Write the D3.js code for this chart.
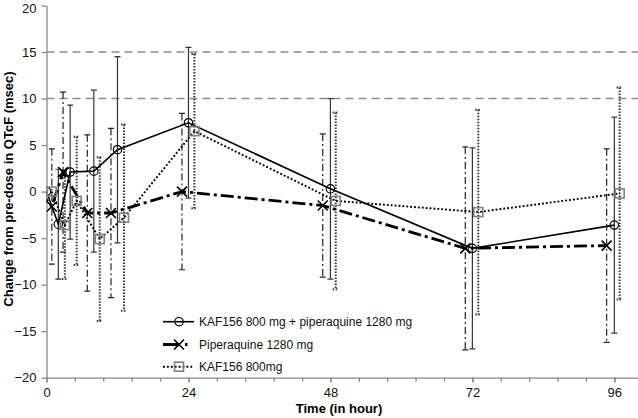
<!DOCTYPE html>
<html>
<head>
<meta charset="utf-8">
<script src="https://cdn.jsdelivr.net/npm/d3@7"></script>
<style>
  body { margin: 0; background: #fff; }
  svg { display: block; font-family: Arial, "Liberation Sans", sans-serif; }
</style>
</head>
<body>
<script>
const width = 638;
const height = 418;

// values (hours, mean change, half-width of error bar)
const seriesNames = [
  "KAF156 800 mg + piperaquine 1280 mg",
  "Piperaquine 1280 mg",
  "KAF156 800mg",
];

const comboHours = [0, 2, 4, 8, 12, 24, 48, 72, 96];
const comboMean = [0, -3.5, 2.1, 2.2, 4.5, 7.4, 0.3, -6.1, -3.6];
const comboErr = [null, 5.9, 7.2, 8.7, 10.0, 8.1, 9.7, 10.8, 11.6];

const pipHours = [-1.2, 0.9, 2.8, 6.9, 10.9, 22.9, 46.7, 70.8, 94.7];
const pipMean = [0, -1.6, 2.1, -2.3, -2.3, 0.0, -1.5, -6.1, -5.8];
const pipErr = [null, 6.2, 8.6, 8.4, 9.1, 8.4, 7.7, 10.9, 10.4];

const kafHours = [0.9, 3.1, 5.1, 9.0, 13.1, 25.0, 48.9, 73.0, 96.9];
const kafMean = [0, -3.6, -1.0, -5.1, -2.8, 6.5, -1.0, -2.2, -0.2];
const kafErr = [null, 5.8, 6.9, 8.8, 10.0, 8.3, 9.5, 11.0, 11.4];

const xTickLabels = [0, 24, 48, 72, 96];
const yTickLabels = [-20, -15, -10, -5, 0, 5, 10, 15, 20];
const refLines = [10, 15];

const x = d3.scaleLinear().domain([0, 100]).range([46.5, 638]);
const y = d3.scaleLinear().domain([-20, 20]).range([377.7, 5.5]);

const svg = d3
  .select("body")
  .append("svg")
  .attr("width", width)
  .attr("height", height);

svg
  .append("clipPath")
  .attr("id", "plot-clip")
  .append("rect")
  .attr("x", x(0))
  .attr("y", 0)
  .attr("width", x(100) - x(0))
  .attr("height", y(-20) + 1);

// dashed reference lines
svg
  .selectAll(".ref")
  .data(refLines)
  .enter()
  .append("line")
  .attr("class", "ref")
  .attr("x1", x(0))
  .attr("x2", x(100))
  .attr("y1", (d) => y(d))
  .attr("y2", (d) => y(d))
  .attr("stroke", "#8c8c8c")
  .attr("stroke-width", 1.5)
  .attr("stroke-dasharray", "8,5");

// axes
svg
  .append("g")
  .attr("transform", `translate(${x(0)},0)`)
  .call(d3.axisLeft(y).tickValues(yTickLabels).tickSize(5).tickSizeOuter(0).tickPadding(5));

svg
  .append("g")
  .attr("transform", `translate(0,${y(-20)})`)
  .call(d3.axisBottom(x).tickValues(xTickLabels).tickSize(5).tickSizeOuter(0).tickPadding(5));

svg
  .append("g")
  .attr("transform", `translate(0,${y(-20)})`)
  .call(d3.axisBottom(x).tickValues(d3.range(0, 100, 4.8)).tickSize(4).tickSizeOuter(0).tickFormat(""))
  .select(".domain")
  .remove();

svg.selectAll(".domain, .tick line").attr("stroke", "#888").attr("stroke-width", 1.3);
svg.selectAll(".tick text").attr("font-size", 13).attr("fill", "#111").attr("font-family", "Arial, 'Liberation Sans', sans-serif");
// keep the top label inside the page
svg.selectAll(".tick text").filter((d) => d === 20).attr("dy", "0.5em");

svg
  .append("text")
  .text("Change from pre-dose in QTcF (msec)")
  .attr("transform", "translate(13,189) rotate(-90)")
  .attr("text-anchor", "middle")
  .attr("font-size", 13)
  .attr("font-weight", "bold");

svg
  .append("text")
  .text("Time (in hour)")
  .attr("x", 339)
  .attr("y", 413)
  .attr("text-anchor", "middle")
  .attr("font-size", 13)
  .attr("font-weight", "bold");

const series = [
  {
    hours: comboHours, mean: comboMean, err: comboErr, marker: "circle",
    line: { width: 1.6, dash: null }, bar: { width: 1.2, dash: null, color: "#333" },
  },
  {
    hours: pipHours, mean: pipMean, err: pipErr, marker: "cross",
    line: { width: 2.8, dash: "13,4,3,4" }, bar: { width: 1.2, dash: "7,3,2,3", color: "#222" },
  },
  {
    hours: kafHours, mean: kafMean, err: kafErr, marker: "square",
    line: { width: 1.9, dash: "1.9,2" }, bar: { width: 2, dash: "1.5,1.5", color: "#333" },
  },
];

const plot = svg.append("g").attr("clip-path", "url(#plot-clip)");

const drawMarker = (g, kind, cx, cy) => {
  if (kind === "circle") {
    g.append("circle")
      .attr("cx", cx).attr("cy", cy).attr("r", 4.2)
      .attr("fill", "none").attr("stroke", "#000").attr("stroke-width", 1.2);
  } else if (kind === "cross") {
    const s = 5;
    g.append("path")
      .attr("d", `M${cx - s},${cy - s}L${cx + s},${cy + s}M${cx - s},${cy + s}L${cx + s},${cy - s}`)
      .attr("stroke", "#000").attr("stroke-width", 1.6).attr("fill", "none");
  } else {
    g.append("rect")
      .attr("x", cx - 4.5).attr("y", cy - 4.5).attr("width", 9).attr("height", 9)
      .attr("fill", "none").attr("stroke", "#808080").attr("stroke-width", 1.6);
  }
};

// error bars
series.forEach((s) => {
  const pts = s.hours
    .map((h, i) => ({ h, m: s.mean[i], e: s.err[i] }))
    .filter((d) => d.e !== null);
  const g = plot.append("g")
    .attr("stroke", s.bar.color)
    .attr("stroke-width", s.bar.width)
    .attr("stroke-dasharray", s.bar.dash);
  g.selectAll(".bar")
    .data(pts)
    .enter()
    .append("line")
    .attr("x1", (d) => x(d.h)).attr("x2", (d) => x(d.h))
    .attr("y1", (d) => y(d.m + d.e)).attr("y2", (d) => y(d.m - d.e));
  g.selectAll(".cap")
    .data(pts.flatMap((d) => [d.m + d.e, d.m - d.e].map((v) => ({ h: d.h, v }))))
    .enter()
    .append("line")
    .attr("stroke-dasharray", null)
    .attr("x1", (d) => x(d.h) - 3).attr("x2", (d) => x(d.h) + 3)
    .attr("y1", (d) => y(d.v)).attr("y2", (d) => y(d.v));
});

// lines and markers
series.forEach((s) => {
  const pts = s.hours.map((h, i) => ({ h, m: s.mean[i] }));
  plot.append("path")
    .datum(pts)
    .attr("d", d3.line().x((d) => x(d.h)).y((d) => y(d.m)))
    .attr("fill", "none")
    .attr("stroke", "#000")
    .attr("stroke-width", s.line.width)
    .attr("stroke-dasharray", s.line.dash);
  pts.forEach((d) => drawMarker(plot, s.marker, x(d.h), y(d.m)));
});

// legend
const legend = svg.append("g").attr("transform", "translate(163,0)");
const legendRows = [321.7, 344.5, 366.7];
series.forEach((s, i) => {
  const ly = legendRows[i];
  legend.append("line")
    .attr("x1", 0).attr("x2", 31).attr("y1", ly).attr("y2", ly)
    .attr("stroke", "#000")
    .attr("stroke-width", s.line.width)
    .attr("stroke-dasharray", i === 1 ? "17,5,2.5,20" : s.line.dash);
  drawMarker(legend, s.marker, 16, ly);
  legend.append("text")
    .text(seriesNames[i])
    .attr("x", 36)
    .attr("y", ly)
    .attr("dy", "0.35em")
    .attr("font-size", 12)
    .attr("fill", "#111");
});
</script>
</body>
</html>
